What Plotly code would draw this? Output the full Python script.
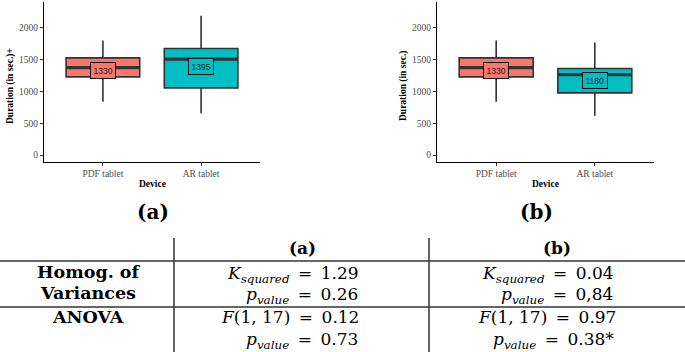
import plotly.graph_objects as go

# ---------------- data ----------------
devices = ["PDF tablet", "AR tablet"]

# panel (a)
a_lower = [840, 657]
a_q1 = [1230, 1057]
a_median = [1377, 1509]
a_q3 = [1530, 1677]
a_upper = [1803, 2192]
a_mean = [1330, 1395]

# panel (b)
b_lower = [840, 620]
b_q1 = [1230, 978]
b_median = [1377, 1266]
b_q3 = [1530, 1361]
b_upper = [1803, 1771]
b_mean = [1330, 1180]

y_ticks = [0, 500, 1000, 1500, 2000]
y_titles = ["Duration (in sec.)+", "Duration (in sec.)"]
panel_labels = ["(a)", "(b)"]

# table
table_cols = ["(a)", "(b)"]
row_labels = ["Homog. of", "Variances", "ANOVA"]
k_squared = ["1.29", "0.04"]
p_homog = ["0.26", "0,84"]
f_stat = ["0.12", "0.97"]
p_anova = ["0.73", "0.38*"]

# ---------------- style ----------------
W, H = 685, 352
fill_colors = ["#F8766D", "#00BFC4"]
EDGE = "#333333"
BOX_W = 0.75
PLOT_FONT = "Liberation Serif"
TAB_FONT = "DejaVu Serif"


def px(x):
    return x / W


def py(y):
    return 1 - y / H


def note(x, y, text, font, **kw):
    d = dict(x=px(x), y=py(y), xref="paper", yref="paper", text=text,
             showarrow=False, xanchor="center", yanchor="middle", font=font)
    d.update(kw)
    return d


fig = go.Figure()
annotations = []
shapes = []

panels = [
    dict(lower=a_lower, q1=a_q1, med=a_median, q3=a_q3, upper=a_upper, mean=a_mean,
         xdom=(44, 260), xa="x", ya="y", ytitle_x=10, label_x=153),
    dict(lower=b_lower, q1=b_q1, med=b_median, q3=b_q3, upper=b_upper, mean=b_mean,
         xdom=(437, 654), xa="x2", ya="y2", ytitle_x=403, label_x=536),
]

for k, p in enumerate(panels):
    for i in range(len(devices)):
        fig.add_trace(go.Box(
            x=[i], q1=[p["q1"][i]], median=[p["med"][i]], q3=[p["q3"][i]],
            lowerfence=[p["lower"][i]], upperfence=[p["upper"][i]],
            fillcolor=fill_colors[i], line=dict(color=EDGE, width=1.6),
            whiskerwidth=0, width=BOX_W, boxpoints=False,
            xaxis=p["xa"], yaxis=p["ya"], showlegend=False, hoverinfo="skip"))
        fig.add_trace(go.Scatter(
            x=[i - BOX_W / 2, i + BOX_W / 2], y=[p["med"][i], p["med"][i]],
            mode="lines", line=dict(color=EDGE, width=3.2),
            xaxis=p["xa"], yaxis=p["ya"], showlegend=False, hoverinfo="skip"))
        annotations.append(dict(
            x=i, y=p["mean"][i], xref=p["xa"], yref=p["ya"], text=str(p["mean"][i]),
            showarrow=False, xanchor="center", yanchor="middle",
            bgcolor=fill_colors[i], bordercolor="#111111",
            borderwidth=1, borderpad=2.5,
            font=dict(family="Liberation Sans", size=8.5, color="#1a1a1a")))
    cx = (p["xdom"][0] + p["xdom"][1]) / 2
    annotations.append(note(cx, 184, "<b>Device</b>",
                            dict(family=PLOT_FONT, size=9.5, color="black")))
    annotations.append(note(p["ytitle_x"], 86, "<b>" + y_titles[k] + "</b>",
                            dict(family=PLOT_FONT, size=9.5, color="black"),
                            textangle=-90))
    annotations.append(note(p["label_x"], 212, "<b>" + panel_labels[k] + "</b>",
                            dict(family=TAB_FONT, size=20, color="black")))

axis_common = dict(showgrid=False, zeroline=False, showline=True, linecolor="black",
                   linewidth=1, ticks="outside", ticklen=3, tickcolor=EDGE,
                   tickfont=dict(family=PLOT_FONT, size=9.5, color="#4d4d4d"))

layout_axes = {}
for k, p in enumerate(panels):
    sfx = "" if k == 0 else "2"
    layout_axes["xaxis" + sfx] = dict(
        domain=[px(p["xdom"][0]), px(p["xdom"][1])], range=[-0.6, 1.6],
        tickvals=list(range(len(devices))), ticktext=devices,
        anchor="y" + sfx, **axis_common)
    layout_axes["yaxis" + sfx] = dict(
        domain=[py(162), py(2)], range=[-110, 2409], tickvals=y_ticks,
        anchor="x" + sfx, **axis_common)

# ---------------- table ----------------
LINE = dict(color="#333333", width=1.5)
for yy in (261, 307):
    shapes.append(dict(type="line", xref="paper", yref="paper",
                       x0=0, x1=1, y0=py(yy), y1=py(yy), line=LINE))
for xx in (174, 429):
    shapes.append(dict(type="line", xref="paper", yref="paper",
                       x0=px(xx), x1=px(xx), y0=py(238), y1=0, line=LINE))

TAB = dict(family=TAB_FONT, size=17, color="black")
TABB = dict(family=TAB_FONT, size=17.5, color="black")
for txt, yy in zip(row_labels, (272, 293, 317)):
    annotations.append(note(88, yy, "<b>" + txt + "</b>", TABB))

col_centers = [
    dict(head=302, k=293, p1=302, f=290, p2=302),
    dict(head=557, k=548, p1=557, f=547, p2=553),
]
EQ = "\u2002=\u2002"
P_SYM = "<i>p</i><sub><i>value</i></sub>"
for j, c in enumerate(col_centers):
    cells = [
        (c["head"], 248, "<b>" + table_cols[j] + "</b>"),
        (c["k"], 274, "<i>K</i><sub><i>squared</i></sub>" + EQ + k_squared[j]),
        (c["p1"], 295, P_SYM + EQ + p_homog[j]),
        (c["f"], 317, "<i>F</i>(1, 17)" + EQ + f_stat[j]),
        (c["p2"], 340, P_SYM + EQ + p_anova[j]),
    ]
    for xx, yy, txt in cells:
        annotations.append(note(xx, yy, txt, TAB))

fig.update_layout(
    width=W, height=H, margin=dict(l=0, r=0, t=0, b=0),
    paper_bgcolor="white", plot_bgcolor="white",
    boxmode="overlay", annotations=annotations, shapes=shapes,
    **layout_axes)

fig.write_html("out.html", config={"displayModeBar": False},
               post_script="document.body.style.margin='0px';")
